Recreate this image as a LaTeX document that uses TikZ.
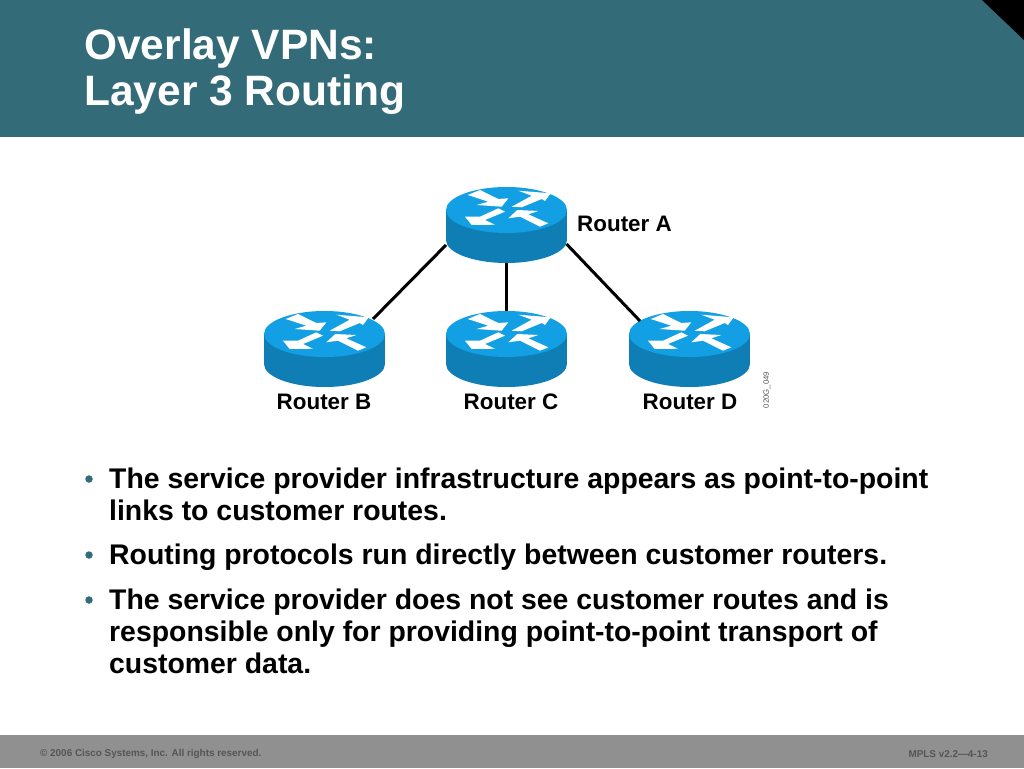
\documentclass[tikz,border=0pt]{standalone}
\usepackage{fontspec}
\setmainfont{Liberation Sans}
\definecolor{bandteal}{HTML}{336B78}
\definecolor{footgray}{HTML}{909090}
\definecolor{footink}{HTML}{555555}
\definecolor{routertop}{HTML}{129FE3}
\definecolor{routerbody}{HTML}{0F7EB4}
\tikzset{
  titletext/.style={anchor=north west,align=left,inner sep=0pt,text=white,font=\fontsize{42.5}{46}\selectfont\bfseries},
  bodytext/.style={anchor=north west,align=left,inner sep=0pt,font=\fontsize{28.4}{32}\selectfont\bfseries},
  bulletdot/.style={circle,fill=bandteal,inner sep=0pt,minimum size=7.5pt},
  routerlabel/.style={inner sep=0pt,font=\fontsize{22.4}{24}\selectfont\bfseries},
  foottext/.style={inner sep=0pt,text=footink,font=\fontsize{9.9}{11}\selectfont\bfseries},
  pics/router/.style={code={
    \fill[routerbody] (-60.5,0) -- (-60.5,30) -- (60.5,30) -- (60.5,0) -- cycle;
    \fill[routerbody] (0,30) ellipse [x radius=60.5pt,y radius=23pt];
    \fill[routertop] (0,0) ellipse [x radius=60.5pt,y radius=23pt];
    \fill[white] (-38.8,-15) -- (-26.5,-20) -- (-8.2,-11) -- (1.8,-11.7) -- (-4.8,-3.3) -- (-29.8,-5) -- (-18.2,-8.3) -- cycle;
    \fill[white] (5.2,-3.3) -- (15.2,-2.7) -- (35.2,-11) -- (38.5,-9) -- (44.2,-16.7) -- (11.8,-19.3) -- (25.2,-14.3) -- cycle;
    \fill[white] (-41.5,6.7) -- (-34.8,15) -- (-11.5,14.7) -- (-21.5,10) -- (-1.5,1.7) -- (-8.2,-1.7) -- (-26.5,6.7) -- cycle;
    \fill[white] (1.8,8.3) -- (10.8,0) -- (31.8,1) -- (21.8,4.3) -- (41.8,13.3) -- (33.5,16.7) -- (13.5,6.7) -- cycle;
    \coordinate (-n) at (0,-23);
    \coordinate (-ne) at (48.5,-15);
    \coordinate (-nw) at (-49.5,-13);
    \coordinate (-s) at (0,53);
    \coordinate (-se) at (60,34);
    \coordinate (-sw) at (-60.5,35);
  }}
}
\begin{document}
\begin{tikzpicture}[x=1pt,y=-1pt]
  \useasboundingbox (0,0) rectangle (1024,768);

  % header and footer bands
  \fill[bandteal] (0,0) rectangle (1024,137);
  \fill[black] (982,0) -- (1024,0) -- (1024,40) -- cycle;
  \fill[footgray] (0,735) rectangle (1024,768);
  \node[titletext] (title) at (84,29) {Overlay VPNs:\\Layer 3 Routing};
  \node[foottext,anchor=west] (copyright) at (40,754) {© 2006 Cisco Systems, Inc. All rights reserved.};
  \node[foottext,anchor=east] (version) at (988,754) {MPLS v2.2—4-13};

  % routers
  \pic (routerA) at (506.5,210) {router};
  \pic (routerB) at (324.5,334) {router};
  \pic (routerC) at (506.5,334) {router};
  \pic (routerD) at (689.5,334) {router};

  \draw[line width=3pt] (routerA-sw) -- (routerB-ne);
  \draw[line width=3pt] (routerA-s) -- (routerC-n);
  \draw[line width=3pt] (routerA-se) -- (routerD-nw);

  \node[routerlabel,anchor=west] (labelA) at (577,224) {Router A};
  \node[routerlabel] (labelB) at (324,402) {Router B};
  \node[routerlabel] (labelC) at (511,402) {Router C};
  \node[routerlabel] (labelD) at (690,402) {Router D};
  \node[inner sep=0pt,rotate=90,text=footink,font=\fontsize{7.8}{10}\selectfont] (figcode) at (767,390) {020G\_049};

  % bullets
  \node[bulletdot] (dotA) at (89,479) {};
  \node[bulletdot] (dotB) at (89,555) {};
  \node[bulletdot] (dotC) at (89,600) {};
  \node[bodytext] (bulletA) at (109,468) {The service provider infrastructure appears as point-to-point\\links to customer routes.};
  \node[bodytext] (bulletB) at (109,544) {Routing protocols run directly between customer routers.};
  \node[bodytext] (bulletC) at (109,589) {The service provider does not see customer routes and is\\responsible only for providing point-to-point transport of\\customer data.};
\end{tikzpicture}
\end{document}
